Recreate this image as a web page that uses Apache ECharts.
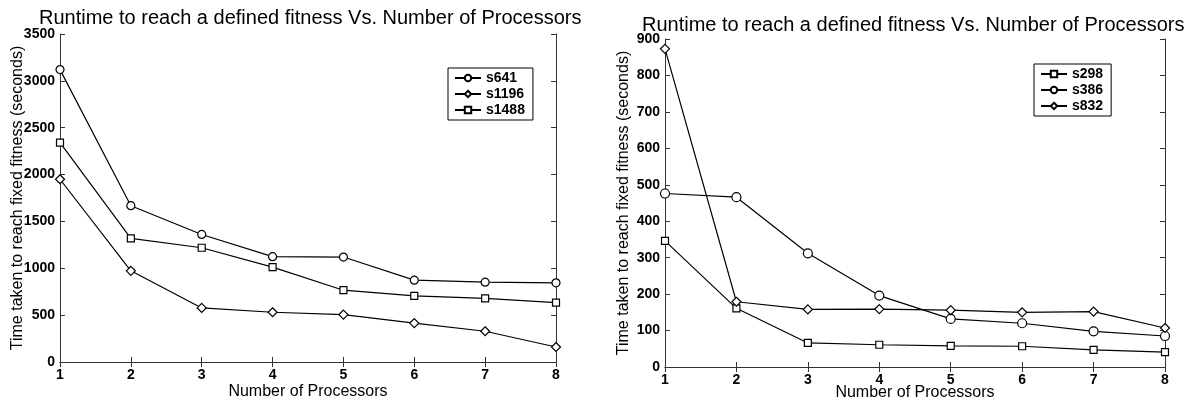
<!DOCTYPE html>
<html>
<head>
<meta charset="utf-8">
<script src="https://cdn.jsdelivr.net/npm/echarts@6/dist/echarts.min.js"></script>
<style>
  html, body { margin: 0; padding: 0; background: #fff; }
  #chart { width: 1200px; height: 406px; }
</style>
</head>
<body>
<div id="chart"></div>
<script>
// 两张 MATLAB 风格的折线图：左图 s641/s1196/s1488，右图 s298/s386/s832。
const PROCESSORS = [1, 2, 3, 4, 5, 6, 7, 8];
const TITLE = 'Runtime to reach a defined fitness Vs. Number of Processors';
const X_NAME = 'Number of Processors';
const Y_NAME = 'Time taken to reach fixed fitness (seconds)';

// 左图
const S641 = [3120, 1668, 1361, 1124, 1120, 873, 852, 845];
const S1196 = [1950, 973, 577, 531, 506, 415, 328, 160];
const S1488 = [2340, 1319, 1219, 1012, 766, 706, 678, 634];

// 右图
const S298 = [346, 161, 66, 61, 58, 57, 47, 41];
const S386 = [476, 466, 312, 196, 132, 120, 98, 85];
const S832 = [873, 179, 158, 159, 156, 150, 152, 107];

const FONT = 'Liberation Sans, Arial, sans-serif';
const AXIS_COLOR = '#333';

const pairs = (ys) => PROCESSORS.map((x, i) => [x, ys[i]]);

function axesFor(gridIndex, max, interval) {
  const line = { show: true, lineStyle: { color: AXIS_COLOR, width: 1 } };
  const tick = { show: true, inside: true, length: 5, lineStyle: { color: AXIS_COLOR } };
  const label = { color: '#000', fontFamily: FONT, fontWeight: 'bold', fontSize: 14, formatter: (v) => String(v) };
  const xBase = { type: 'value', gridIndex, min: 1, max: 8, interval: 1, splitLine: { show: false } };
  const yBase = { type: 'value', gridIndex, min: 0, max, interval, splitLine: { show: false } };
  return {
    x: [
      {
        ...xBase, position: 'bottom', axisLine: line, axisTick: tick,
        axisLabel: { ...label, margin: 6 },
        name: X_NAME, nameLocation: 'middle', nameGap: gridIndex === 0 ? 22 : 18,
        nameMoveOverlap: false,
        nameTextStyle: { color: '#000', fontFamily: FONT, fontSize: 16 },
      },
      { ...xBase, position: 'top', axisLine: line, axisTick: tick, axisLabel: { show: false } },
    ],
    y: [
      {
        ...yBase, position: 'left', axisLine: line, axisTick: tick,
        axisLabel: { ...label, margin: 5 },
        name: Y_NAME, nameLocation: 'middle', nameGap: gridIndex === 0 ? 34 : 33,
        nameMoveOverlap: false,
        nameTextStyle: { color: '#000', fontFamily: FONT, fontSize: 16 },
      },
      { ...yBase, position: 'right', axisLine: line, axisTick: tick, axisLabel: { show: false } },
    ],
  };
}

function series(name, ys, symbol, size, idx) {
  return {
    name, type: 'line', data: pairs(ys),
    xAxisIndex: idx * 2, yAxisIndex: idx * 2,
    symbol, symbolSize: size, showAllSymbol: true,
    lineStyle: { color: '#000', width: 1.2 },
    itemStyle: { color: '#fff', borderColor: '#000', borderWidth: 1.2 },
  };
}

const left = axesFor(0, 3500, 500);
const right = axesFor(1, 900, 100);

const legendBase = {
  orient: 'vertical',
  borderColor: '#000', borderWidth: 1,
  padding: [3, 8, 3, 6],
  itemGap: 2, itemWidth: 26, itemHeight: 8,
  textStyle: { color: '#000', fontFamily: FONT, fontWeight: 'bold', fontSize: 14 },
};

const chart = echarts.init(document.getElementById('chart'));
chart.setOption({
  animation: false,
  backgroundColor: '#fff',
  title: [
    { text: TITLE, left: 34, top: 3, textStyle: { fontFamily: FONT, fontWeight: 'normal', fontSize: 20, color: '#000' } },
    { text: TITLE, left: 637, top: 10, textStyle: { fontFamily: FONT, fontWeight: 'normal', fontSize: 20, color: '#000' } },
  ],
  grid: [
    { left: 60, top: 34, width: 496, height: 328 },
    { left: 665, top: 39, width: 500, height: 329 },
  ],
  xAxis: [...left.x, ...right.x],
  yAxis: [...left.y, ...right.y],
  legend: [
    { ...legendBase, left: 448, top: 68, data: ['s641', 's1196', 's1488'] },
    { ...legendBase, left: 1034, top: 64, data: ['s298', 's386', 's832'] },
  ],
  series: [
    series('s641', S641, 'circle', 8, 0),
    series('s1196', S1196, 'diamond', 9, 0),
    series('s1488', S1488, 'rect', 7, 0),
    series('s298', S298, 'rect', 7, 1),
    series('s386', S386, 'circle', 9, 1),
    series('s832', S832, 'diamond', 9, 1),
  ],
});
</script>
</body>
</html>
